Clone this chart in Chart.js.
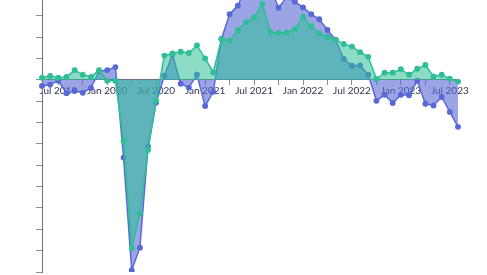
<!DOCTYPE html>
<html><head><meta charset="utf-8">
<script src="https://cdn.jsdelivr.net/npm/chart.js@4/dist/chart.umd.min.js"></script>
<style>html,body{margin:0;padding:0;background:#fff}#wrap{width:487px;height:275px}</style>
</head><body><div id="wrap"><canvas id="c" width="487" height="275"></canvas></div>
<script>
const months = [
 'May 2019','Jun 2019','Jul 2019','Aug 2019','Sep 2019','Oct 2019','Nov 2019','Dec 2019',
 'Jan 2020','Feb 2020','Mar 2020','Apr 2020','May 2020','Jun 2020','Jul 2020','Aug 2020','Sep 2020','Oct 2020','Nov 2020','Dec 2020',
 'Jan 2021','Feb 2021','Mar 2021','Apr 2021','May 2021','Jun 2021','Jul 2021','Aug 2021','Sep 2021','Oct 2021','Nov 2021','Dec 2021',
 'Jan 2022','Feb 2022','Mar 2022','Apr 2022','May 2022','Jun 2022','Jul 2022','Aug 2022','Sep 2022','Oct 2022','Nov 2022','Dec 2022',
 'Jan 2023','Feb 2023','Mar 2023','Apr 2023','May 2023','Jun 2023','Jul 2023','Aug 2023'
];
const greenSeries = [
 0.5, 0.9, 0.5, 0.7, 2.3, 1.2, 0.7, 2.3,
 -0.2, -0.2, -14.3, -39.4, -31.2, -16.4, -4.9, 5.7, 6.2, 6.6, 6.3, 8.1,
 5.0, 1.8, 9.6, 9.2, 11.7, 13.5, 14.7, 17.8, 11.2, 11.0, 11.1, 11.9,
 14.8, 12.6, 10.9, 10.1, 9.4, 8.4, 7.8, 6.5, 5.4, 0.2, 1.7, 1.7,
 2.5, 1.2, 2.6, 3.5, 0.8, 1.2, 0.3, -0.4
];
const blueSeries = [
 -1.4, -1.1, -0.2, -3.1, -2.6, -3.0, -1.9, 2.0,
 2.3, 3.0, -18.2, -44.6, -39.3, -15.6, -5.3, 1.0, 5.9, -0.9, -1.8, 1.2,
 -6.1, -2.8, 9.6, 15.4, 17.4, 21.5, 22.9, 23.9, 21.5, 16.9, 19.4, 18.3,
 17.0, 15.4, 14.2, 11.7, 9.4, 4.9, 3.3, 3.4, 1.2, -4.9, -3.5, -5.4,
 -3.5, -3.6, -0.2, -5.6, -6.0, -4.0, -7.5, -11.0
];
const labelMonths = ['Jan', 'Jul'];
const tickMonths = ['Jan', 'Apr', 'Jul', 'Oct'];
const yMin = -45, yMax = 18.72, yStep = 5;

const greenLine = 'rgb(46,191,151)';
const greenFill = 'rgba(46,191,151,0.55)';
const blueLine = 'rgb(88,105,214)';
const blueFill = 'rgba(88,105,214,0.6)';

new Chart(document.getElementById('c'), {
  type: 'line',
  data: {
    labels: months,
    datasets: [
      { data: greenSeries, borderColor: greenLine, backgroundColor: greenFill, pointBackgroundColor: greenLine,
        pointBorderColor: greenLine, fill: 'origin', borderWidth: 1.5, pointRadius: 2.2, tension: 0 },
      { data: blueSeries, borderColor: blueLine, backgroundColor: blueFill, pointBackgroundColor: blueLine,
        pointBorderColor: blueLine, fill: 'origin', borderWidth: 1.5, pointRadius: 2.2, tension: 0 }
    ]
  },
  options: {
    responsive: false, animation: false, devicePixelRatio: 1,
    layout: { autoPadding: false, padding: { left: 36, right: 29, top: 0, bottom: 3 } },
    plugins: { legend: { display: false }, tooltip: { enabled: false } },
    scales: {
      x: {
        type: 'category', position: { y: 0 }, offset: false,
        grid: { display: true, drawOnChartArea: false, drawTicks: true, tickLength: 5,
          tickColor: (ctx) => tickMonths.includes(String(months[ctx.index] || '').slice(0,3)) ? '#8a8e9c' : 'rgba(0,0,0,0)' },
        border: { display: true, color: '#6c7184', width: 1 },
        ticks: { autoSkip: false, maxRotation: 0, minRotation: 0, padding: 0, color: '#2f3450',
          font: { family: 'Lato', size: 10 },
          callback: function(v, i) { const m = months[i]; return labelMonths.includes(m.slice(0,3)) ? m : ''; } }
      },
      y: {
        min: yMin, max: yMax,
        grid: { display: true, drawOnChartArea: false, drawTicks: true, tickLength: 6, tickColor: '#8a8e9c' },
        border: { display: true, color: '#6c7184', width: 1 },
        ticks: { display: false, stepSize: yStep, includeBounds: false }
      }
    }
  }
});
</script></body></html>
